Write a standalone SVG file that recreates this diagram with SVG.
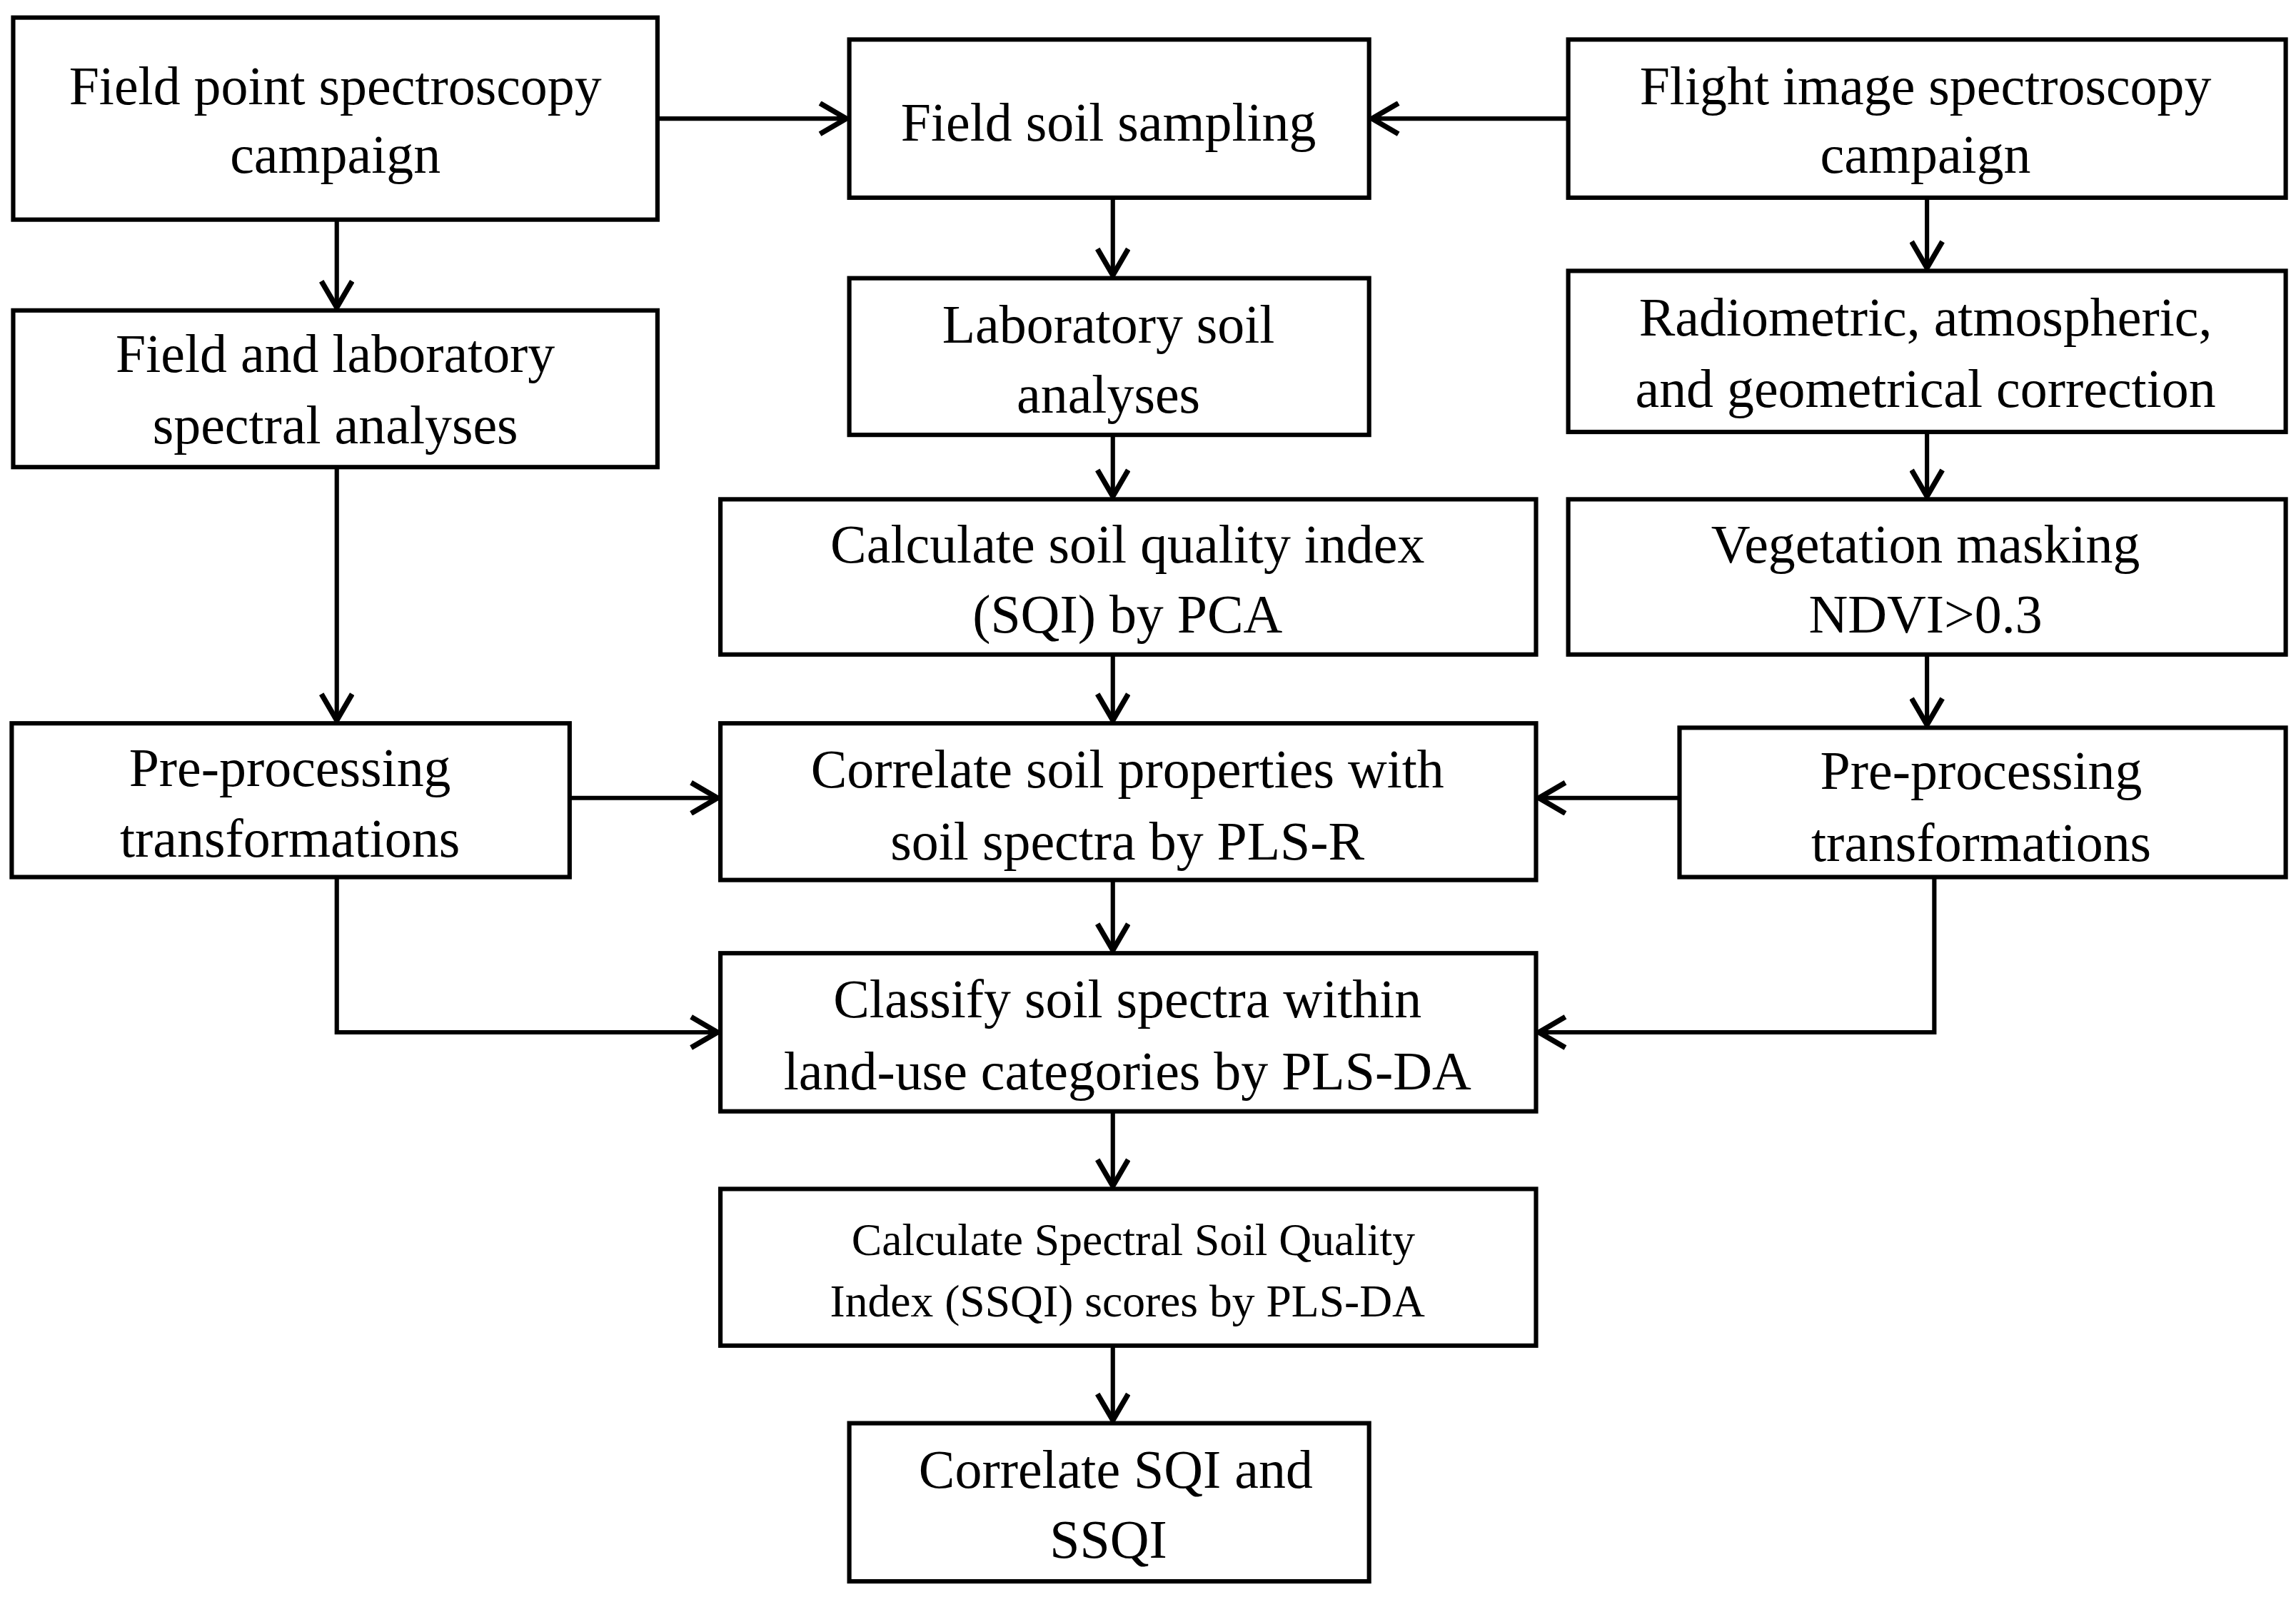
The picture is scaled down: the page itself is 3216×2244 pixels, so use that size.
<svg xmlns="http://www.w3.org/2000/svg" width="3216" height="2244" viewBox="0 0 3216 2244">
<style>
rect{fill:#fff;stroke:#000;stroke-width:3}
text{font-family:"Liberation Serif","Times New Roman",serif;font-size:37px;text-anchor:middle;fill:#000}
.s{font-size:31px}
#connectors path{fill:none;stroke:#000;stroke-width:3;marker-end:url(#a)}
</style>
<defs><marker id="a" markerWidth="8" markerHeight="8" refX="7" refY="4" orient="auto" markerUnits="strokeWidth"><path d="M1,0.5 L7,4 L1,7.5" fill="none" stroke="#000" stroke-width="1.2"/></marker></defs>
<rect x="0" y="0" width="3216" height="2244" style="stroke:none"/>
<g transform="scale(2.051)">
<g id="connectors">
<path d="M449,81 H578"/><path d="M1071,81 H937"/>
<path d="M230,150 V210"/><path d="M760,135 V188"/><path d="M1316,135 V183"/>
<path d="M230,319 V492"/><path d="M760,297 V339"/><path d="M1316,295 V339"/>
<path d="M760,447 V492"/><path d="M1316,447 V495"/>
<path d="M389,545 H490"/><path d="M1147,545 H1051"/>
<path d="M760,601 V649"/>
<path d="M230,599 V705 H490"/><path d="M1321,599 V705 H1051"/>
<path d="M760,759 V810"/><path d="M760,919 V970"/>
</g>
<g id="n1"><rect x="9" y="12" width="440" height="138"/><text x="229" y="71">Field point spectroscopy</text><text x="229" y="118">campaign</text></g>
<g id="n2"><rect x="580" y="27" width="355" height="108"/><text x="757" y="96">Field soil sampling</text></g>
<g id="n3"><rect x="1071" y="27" width="490" height="108"/><text x="1315" y="71">Flight image spectroscopy</text><text x="1315" y="118">campaign</text></g>
<g id="n4"><rect x="9" y="212" width="440" height="107"/><text x="229" y="254">Field and laboratory</text><text x="229" y="303">spectral analyses</text></g>
<g id="n5"><rect x="580" y="190" width="355" height="107"/><text x="757" y="234">Laboratory  soil</text><text x="757" y="282">analyses</text></g>
<g id="n6"><rect x="1071" y="185" width="490" height="110"/><text x="1315" y="229">Radiometric, atmospheric,</text><text x="1315" y="278">and geometrical correction</text></g>
<g id="n7"><rect x="492" y="341" width="557" height="106"/><text x="770" y="384">Calculate soil quality index</text><text x="770" y="432">(SQI) by PCA</text></g>
<g id="n8"><rect x="1071" y="341" width="490" height="106"/><text x="1315" y="384">Vegetation masking</text><text x="1315" y="432">NDVI&gt;0.3</text></g>
<g id="n9"><rect x="8" y="494" width="381" height="105"/><text x="198" y="537">Pre-processing</text><text x="198" y="585">transformations</text></g>
<g id="n10"><rect x="492" y="494" width="557" height="107"/><text x="770" y="538">Correlate soil properties with</text><text x="770" y="587">soil spectra by PLS-R</text></g>
<g id="n11"><rect x="1147" y="497" width="414" height="102"/><text x="1353" y="539">Pre-processing</text><text x="1353" y="588">transformations</text></g>
<g id="n12"><rect x="492" y="651" width="557" height="108"/><text x="770" y="695">Classify soil spectra within</text><text x="770" y="744">land-use categories by PLS-DA</text></g>
<g id="n13"><rect x="492" y="812" width="557" height="107"/><text class="s" x="774" y="857">Calculate  Spectral  Soil  Quality</text><text class="s" x="770" y="899">Index  (SSQI)  scores  by PLS-DA</text></g>
<g id="n14"><rect x="580" y="972" width="355" height="108"/><text x="762" y="1016">Correlate SQI and</text><text x="757" y="1064">SSQI</text></g>
</g>
</svg>
